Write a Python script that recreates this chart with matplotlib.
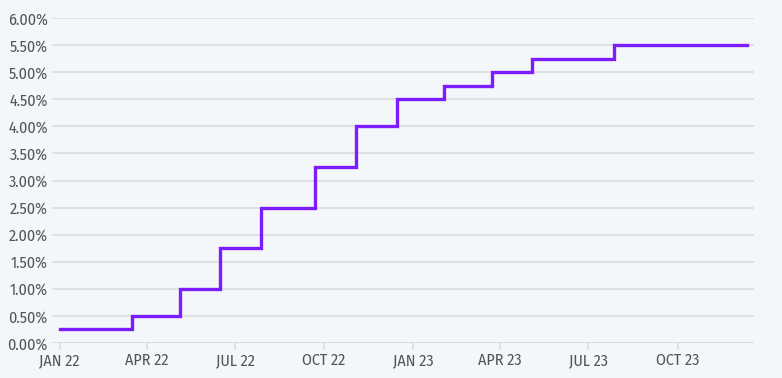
import matplotlib
matplotlib.use("Agg")
import matplotlib.pyplot as plt
import numpy as np
import pandas as pd

# fed funds target (upper bound), step changes
dates = ["2022-01-01", "2022-03-17", "2022-05-05", "2022-06-16", "2022-07-28",
         "2022-09-22", "2022-11-03", "2022-12-15", "2023-02-02", "2023-03-23",
         "2023-05-04", "2023-07-27", "2023-12-12"]
rates = [0.25, 0.50, 1.00, 1.75, 2.50, 3.25, 4.00, 4.50, 4.75, 5.00, 5.25, 5.50, 5.50]

tick_dates = ["2022-01-01", "2022-04-01", "2022-07-01", "2022-10-01",
              "2023-01-01", "2023-04-01", "2023-07-01", "2023-10-01"]
tick_labels = ["JAN 22", "APR 22", "JUL 22", "OCT 22", "JAN 23", "APR 23", "JUL 23", "OCT 23"]
yticks = np.arange(0, 6.01, 0.5)

bg = "#f4f7fa"
plt.rcParams['font.family'] = ['Fira Sans Condensed', 'Roboto Condensed', 'DejaVu Sans']

fig = plt.figure(figsize=(7.82, 3.78), dpi=100, facecolor=bg)
ax = fig.add_axes([52/782, 1-343/378, (754-52)/782, (343-18)/378], facecolor=bg)

x = pd.to_datetime(dates)
ax.step(x, rates, where="post", color="#7c1cff", lw=2.4, solid_joinstyle="miter", zorder=3)

ax.set_ylim(0, 6)
ax.set_yticks(yticks)
ax.set_yticklabels([f"{v:.2f}%" for v in yticks])
ax.set_xlim(pd.Timestamp("2021-12-24"), pd.Timestamp("2023-12-19"))
ax.set_xticks(pd.to_datetime(tick_dates))
ax.set_xticklabels(tick_labels)

ax.grid(axis="y", color="#dcdcdc", lw=1.2)
ax.set_axisbelow(True)
for s in ax.spines.values():
    s.set_visible(False)
ax.tick_params(axis="y", length=0, pad=3, labelsize=11.5, labelcolor="#555555")
ax.tick_params(axis="x", length=5, width=1.2, color="#dcdcdc", pad=2, labelsize=11.5, labelcolor="#555555")
ax.axhline(0, color="#dcdcdc", lw=1.2, zorder=1)

fig.savefig("out.png", dpi=100, facecolor=bg)
